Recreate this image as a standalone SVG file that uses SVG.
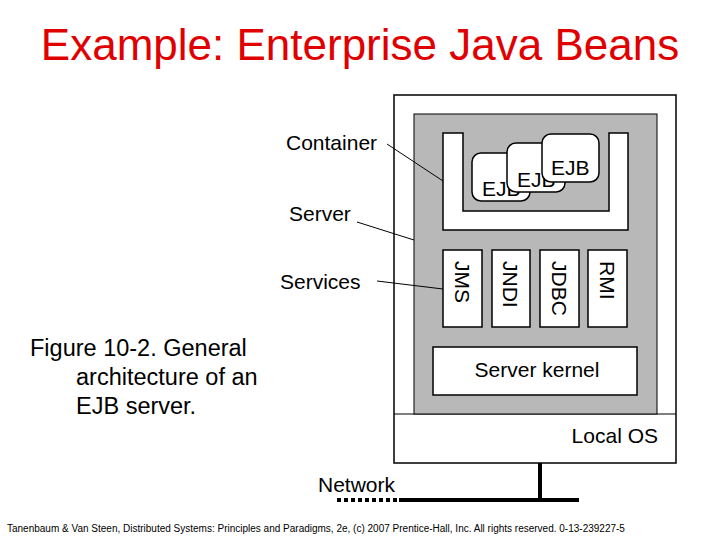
<svg xmlns="http://www.w3.org/2000/svg" width="720" height="540" viewBox="0 0 720 540">
<style>
text{font-family:"Liberation Sans",Arial,sans-serif;fill:#000}
.b{fill:#fff;stroke:#000;stroke-width:1.5}
.l{stroke:#000;stroke-width:1;fill:none}
.s{font-size:21px}
</style>
<rect width="720" height="540" fill="#fff"/>
<text x="360" y="60" text-anchor="middle" font-size="44" style="fill:#e00000">Example: Enterprise Java Beans</text>
<g id="server-box"><rect class="b" x="394" y="95" width="282" height="368" stroke-width="2"/>
<line class="l" x1="394" y1="414" x2="676" y2="414"/>
<text class="s" x="658" y="443" text-anchor="end">Local OS</text></g>
<g id="server"><rect x="414" y="114" width="243" height="300" fill="#b8b8b8" stroke="#000"/></g>
<g id="container"><path class="b" d="M443 133H463V211H609V133H628V230H443Z"/></g>
<g id="ejb1"><rect class="b" x="472" y="153" width="58" height="48" rx="9"/><text class="s" x="482" y="196">EJB</text></g>
<g id="ejb2"><rect class="b" x="507" y="143" width="58" height="49" rx="9"/><text class="s" x="517" y="187">EJB</text></g>
<g id="ejb3"><rect class="b" x="542" y="134" width="57" height="48" rx="9"/><text class="s" x="551" y="175">EJB</text></g>
<g id="jms"><rect class="b" x="443" y="250" width="39" height="77"/><text class="s" transform="translate(455,261) rotate(90)">JMS</text></g>
<g id="jndi"><rect class="b" x="492" y="250" width="38" height="77"/><text class="s" transform="translate(503,261) rotate(90)">JNDI</text></g>
<g id="jdbc"><rect class="b" x="540" y="250" width="39" height="77"/><text class="s" transform="translate(552,261) rotate(90)">JDBC</text></g>
<g id="rmi"><rect class="b" x="588" y="250" width="39" height="77"/><text class="s" transform="translate(600,261) rotate(90)">RMI</text></g>
<g id="kernel"><rect class="b" x="433" y="347" width="204" height="48"/><text class="s" x="537" y="377" text-anchor="middle">Server kernel</text></g>
<g id="labels">
<text class="s" x="286" y="150">Container</text>
<text class="s" x="289" y="221">Server</text>
<text class="s" x="280" y="289">Services</text>
<text class="s" x="318" y="492">Network</text>
</g>
<g id="connectors">
<line class="l" x1="387" y1="144" x2="443" y2="181"/>
<line class="l" x1="357" y1="222" x2="414" y2="240"/>
<line class="l" x1="377" y1="281" x2="443" y2="289"/>
<line x1="540" y1="463" x2="540" y2="500" stroke="#000" stroke-width="4"/>
<line x1="399" y1="500" x2="579" y2="500" stroke="#000" stroke-width="4"/>
<line x1="337" y1="500" x2="399" y2="500" stroke="#000" stroke-width="4" stroke-dasharray="4,3"/>
</g>
<text x="30" y="356" font-size="23.5">Figure 10-2. General</text>
<text x="76" y="385" font-size="23.5">architecture of an</text>
<text x="76" y="414" font-size="23.5">EJB server.</text>
<text x="7" y="532" font-size="10">Tanenbaum &amp; Van Steen, Distributed Systems: Principles and Paradigms, 2e, (c) 2007 Prentice-Hall, Inc. All rights reserved. 0-13-239227-5</text>
</svg>
